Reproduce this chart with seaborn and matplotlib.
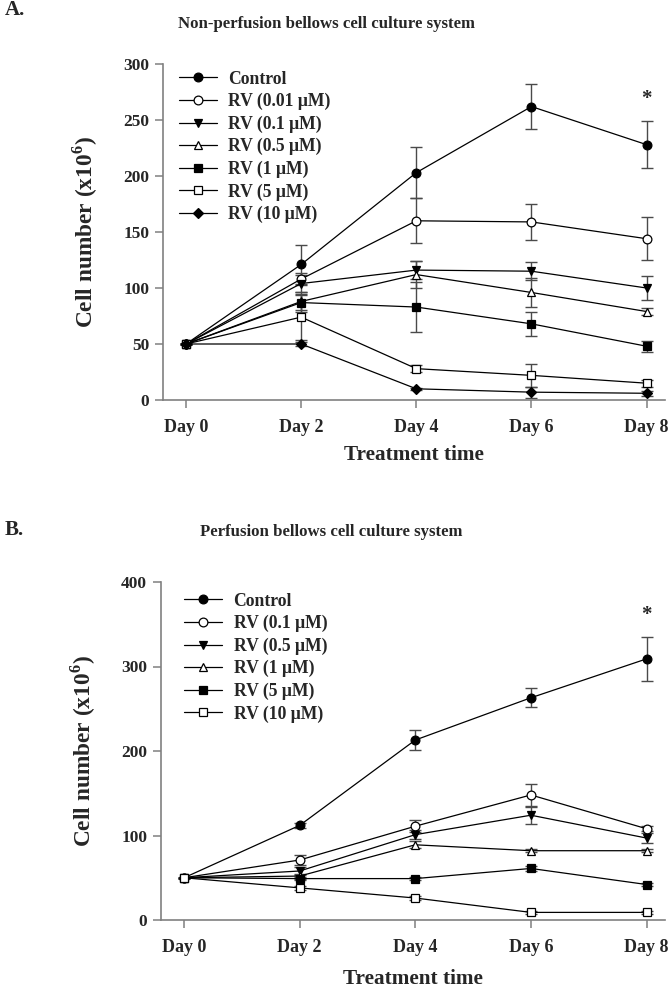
import numpy as np
import pandas as pd
import matplotlib
matplotlib.use("Agg")
import matplotlib.pyplot as plt
import seaborn as sns

sns.set_theme(style="white")
plt.rcParams['font.family'] = ['Liberation Serif', 'DejaVu Serif']
plt.rcParams['font.weight'] = 'bold'
plt.rcParams['mathtext.fontset'] = 'custom'
plt.rcParams['mathtext.rm'] = 'Liberation Serif:bold'
plt.rcParams['mathtext.bf'] = 'Liberation Serif:bold'

days = [0, 2, 4, 6, 8]
day_labels = ["Day 0", "Day 2", "Day 4", "Day 6", "Day 8"]

# Panel A: non-perfusion
labels_a = ["Control", "RV (0.01 \u03bcM)", "RV (0.1 \u03bcM)", "RV (0.5 \u03bcM)",
            "RV (1 \u03bcM)", "RV (5 \u03bcM)", "RV (10 \u03bcM)"]
a_control = [50, 121, 203, 262, 228]
a_rv001 = [50, 108, 160, 159, 144]
a_rv01 = [50, 104, 116, 115, 100]
a_rv05 = [50, 88, 112, 96, 79]
a_rv1 = [50, 87, 83, 68, 48]
a_rv5 = [50, 74, 28, 22, 15]
a_rv10 = [50, 50, 10, 7, 6]
a_err_control = [0, 17, 23, 20, 21]
a_err_rv001 = [0, 5, 20, 16, 19]
a_err_rv01 = [0, 8, 8, 8, 11]
a_err_rv05 = [0, 8, 12, 13, 3]
a_err_rv1 = [0, 8, 22, 11, 5]
a_err_rv5 = [0, 20, 3, 10, 3]
a_err_rv10 = [0, 2, 1, 5, 2]

# Panel B: perfusion
labels_b = ["Control", "RV (0.1 \u03bcM)", "RV (0.5 \u03bcM)", "RV (1 \u03bcM)",
            "RV (5 \u03bcM)", "RV (10 \u03bcM)"]
b_control = [50, 112, 213, 263, 309]
b_rv01 = [50, 71, 111, 148, 108]
b_rv05 = [50, 58, 101, 124, 97]
b_rv1 = [50, 52, 89, 82, 82]
b_rv5 = [50, 49, 49, 61, 42]
b_rv10 = [50, 38, 26, 9, 9]
b_err_control = [0, 3, 12, 11, 26]
b_err_rv01 = [0, 6, 7, 13, 3]
b_err_rv05 = [0, 5, 5, 10, 6]
b_err_rv1 = [0, 3, 4, 2, 2]
b_err_rv5 = [0, 2, 2, 3, 2]
b_err_rv10 = [0, 2, 2, 2, 2]

styles_a = [("o", "black"), ("o", "white"), ("v", "black"), ("^", "white"),
            ("s", "black"), ("s", "white"), ("D", "black")]
styles_b = [("o", "black"), ("o", "white"), ("v", "black"), ("^", "white"),
            ("s", "black"), ("s", "white")]

series_a = [a_control, a_rv001, a_rv01, a_rv05, a_rv1, a_rv5, a_rv10]
errs_a = [a_err_control, a_err_rv001, a_err_rv01, a_err_rv05, a_err_rv1, a_err_rv5, a_err_rv10]
series_b = [b_control, b_rv01, b_rv05, b_rv1, b_rv5, b_rv10]
errs_b = [b_err_control, b_err_rv01, b_err_rv05, b_err_rv1, b_err_rv5, b_err_rv10]

W, H = 671, 990
fig = plt.figure(figsize=(W / 100, H / 100), dpi=100)

spine_col = "#808080"


def panel(rect, labels, series, errs, styles, ymax, yticks, star_y,
          xlab_y, leg_anchor):
    ax = fig.add_axes(rect)
    for lab, vals, err, (mk, fc) in zip(labels, series, errs, styles):
        df = pd.DataFrame({"day": days, "val": vals})
        ax.errorbar(days, vals, yerr=err, fmt="none", ecolor="#4a4a4a",
                    elinewidth=1.0, capsize=4, capthick=1.0, zorder=2)
        ms = 5.5 if mk == "D" else 6.3
        sns.lineplot(data=df, x="day", y="val", ax=ax, color="black",
                     linewidth=0.9, marker=mk, markersize=ms,
                     markerfacecolor=fc, markeredgecolor="black",
                     markeredgewidth=0.9, label=lab, zorder=3)
    ax.set_xlim(-0.4, 8.32)
    ax.set_ylim(0, ymax)
    ax.set_xticks(days)
    ax.set_xticklabels(day_labels, fontsize=13, fontweight="bold")
    ax.set_yticks(yticks)
    ax.set_yticklabels([str(t) for t in yticks], fontsize=12.5, fontweight="bold")
    for s in ["top", "right"]:
        ax.spines[s].set_visible(False)
    for s in ["left", "bottom"]:
        ax.spines[s].set_color(spine_col)
        ax.spines[s].set_linewidth(1.2)
    ax.tick_params(axis="both", direction="out", length=6, width=1.1,
                   color=spine_col, pad=4, bottom=True, left=True)
    ax.tick_params(axis="x", pad=8)
    ax.set_xlabel("Treatment time", fontsize=15.3, fontweight="bold")
    ax.set_ylabel("Cell number (x10$^{6}$)", fontsize=16.8, fontweight="bold")
    ax.yaxis.set_label_coords(-0.125, 0.5)
    ax.xaxis.set_label_coords(0.5, xlab_y)
    ax.text(8, star_y, "*", ha="center", va="center", fontsize=15,
            fontweight="bold")
    leg = ax.legend(loc="upper left", bbox_to_anchor=leg_anchor, frameon=False,
                    fontsize=12.7, handlelength=2.15, handletextpad=0.65,
                    labelspacing=0.3, borderaxespad=0.2)
    for t in leg.get_texts():
        t.set_fontweight("bold")
    ax.grid(False)
    return ax


axA = panel([163 / W, 1 - 400 / H, 502 / W, 336 / H], labels_a, series_a, errs_a,
            styles_a, 300, [0, 50, 100, 150, 200, 250, 300], 269, -0.134,
            (0.01, 1.012))
axB = panel([161 / W, 1 - 920 / H, 504 / W, 338 / H], labels_b, series_b, errs_b,
            styles_b, 400, [0, 100, 200, 300, 400], 361, -0.146,
            (0.025, 1.0))

fig.text(5 / W, 1 - 10 / H, "A.", fontsize=15, fontweight="bold", va="center")
fig.text(326 / W, 1 - 24 / H, "Non-perfusion bellows cell culture system",
         fontsize=12.1, fontweight="bold", ha="center", va="center")
fig.text(5 / W, 1 - 530 / H, "B.", fontsize=15, fontweight="bold", va="center")
fig.text(331 / W, 1 - 532 / H, "Perfusion bellows cell culture system",
         fontsize=12.1, fontweight="bold", ha="center", va="center")

fig.savefig("out.png", dpi=100, facecolor="white")
